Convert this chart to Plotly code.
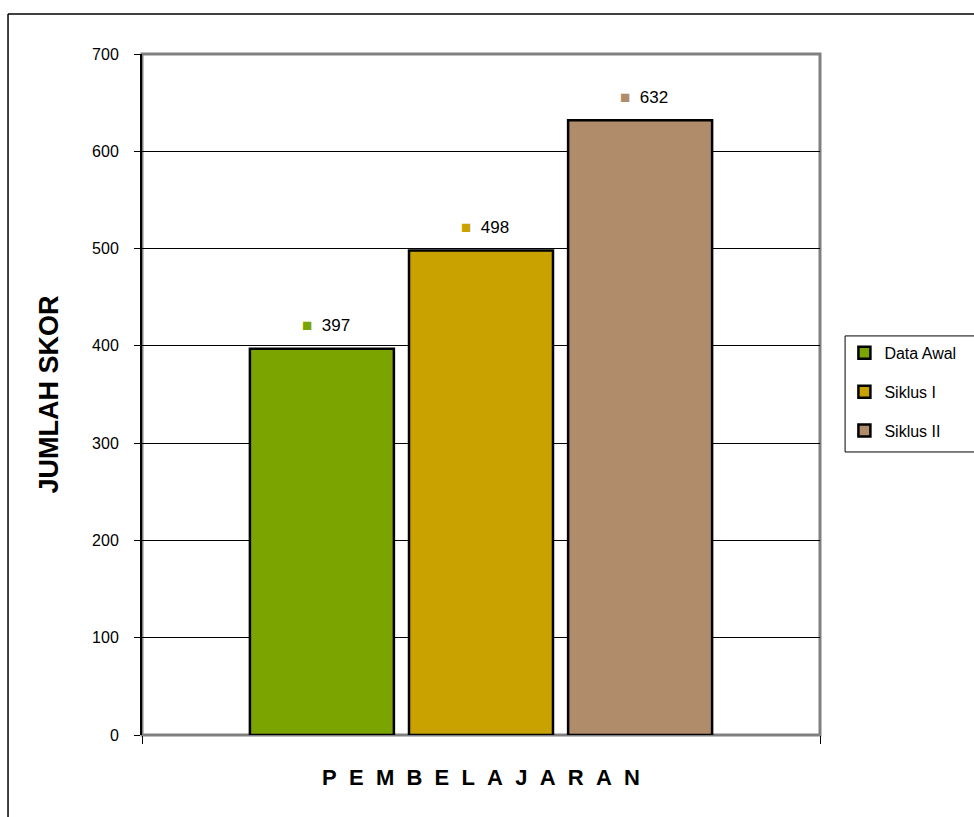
import plotly.graph_objects as go

categories = ["PEMBELAJARAN"]
series_names = ["Data Awal", "Siklus I", "Siklus II"]
series_values = [397, 498, 632]
series_colors = ["#7ba400", "#c9a200", "#b08c6a"]
y_ticks = [0, 100, 200, 300, 400, 500, 600, 700]

FONT = "Liberation Sans, Arial"
BARGAP = 0.296

fig = go.Figure()
for name, val, col in zip(series_names, series_values, series_colors):
    fig.add_trace(go.Bar(
        x=[0], y=[val], name=name, legendgroup=name,
        marker=dict(color=col, line=dict(color="black", width=2.5)),
    ))

# data labels above each bar
n = len(series_values)
slot = (1 - BARGAP) / n
annotations = []
for i, (val, col) in enumerate(zip(series_values, series_colors)):
    xc = -0.5 + BARGAP / 2 + slot * (i + 0.5)
    annotations.append(dict(
        x=xc, y=val, xref="x", yref="y", showarrow=False, yshift=23, xshift=4,
        text=f"<span style='color:{col}'>■</span>  {val}",
        font=dict(family=FONT, size=17, color="black"),
    ))

xtitle = "\u00a0\u00a0".join("PEMBELAJARAN")

fig.update_layout(
    width=974, height=817,
    margin=dict(l=142, r=154, t=54, b=82, autoexpand=False),
    paper_bgcolor="white", plot_bgcolor="white",
    barmode="group", bargap=BARGAP, bargroupgap=0.095,
    showlegend=True,
    legend=dict(x=1.036, y=0.586, xanchor="left", yanchor="top",
                borderwidth=0, bgcolor="rgba(0,0,0,0)",
                font=dict(family=FONT, size=16, color="black"),
                itemwidth=30, tracegroupgap=15),
    font=dict(family=FONT, color="black"),
    annotations=annotations,
    xaxis=dict(range=[-0.5, 0.5], tickvals=[-0.5, 0.5], ticktext=["", ""],
               ticks="outside", ticklen=8, tickcolor="black", showgrid=False,
               zeroline=False, showline=False,
               title=dict(text=xtitle, standoff=24,
                          font=dict(family=FONT, size=22, color="black", weight="bold"))),
    yaxis=dict(range=[0, 700], tickvals=y_ticks, ticks="outside", ticklen=6,
               tickcolor="black", showgrid=True, gridcolor="black", gridwidth=1,
               zeroline=False, showline=True, linecolor="black", linewidth=2,
               ticklabelstandoff=12,
               tickfont=dict(family=FONT, size=16, color="black"),
               title=dict(text="JUMLAH SKOR", standoff=26,
                          font=dict(family=FONT, size=27, color="black", weight="bold"))),
    shapes=[
        dict(type="rect", xref="paper", yref="paper", x0=0, x1=1, y0=0, y1=1,
             line=dict(color="#808080", width=3), layer="between"),
        dict(type="line", xref="paper", yref="paper", x0=-0.1976, x1=-0.1976, y0=-0.2, y1=1.0587,
             line=dict(color="black", width=1.5)),
        dict(type="line", xref="paper", yref="paper", x0=-0.1976, x1=1.3, y0=1.0587, y1=1.0587,
             line=dict(color="black", width=1.5)),
        # legend frame extending past the right edge
        dict(type="rect", xref="paper", yref="paper", x0=1.037, x1=1.3, y0=0.4156, y1=0.586,
             line=dict(color="black", width=1), fillcolor="white", layer="below"),
    ],
)

fig.write_html("out.html")
